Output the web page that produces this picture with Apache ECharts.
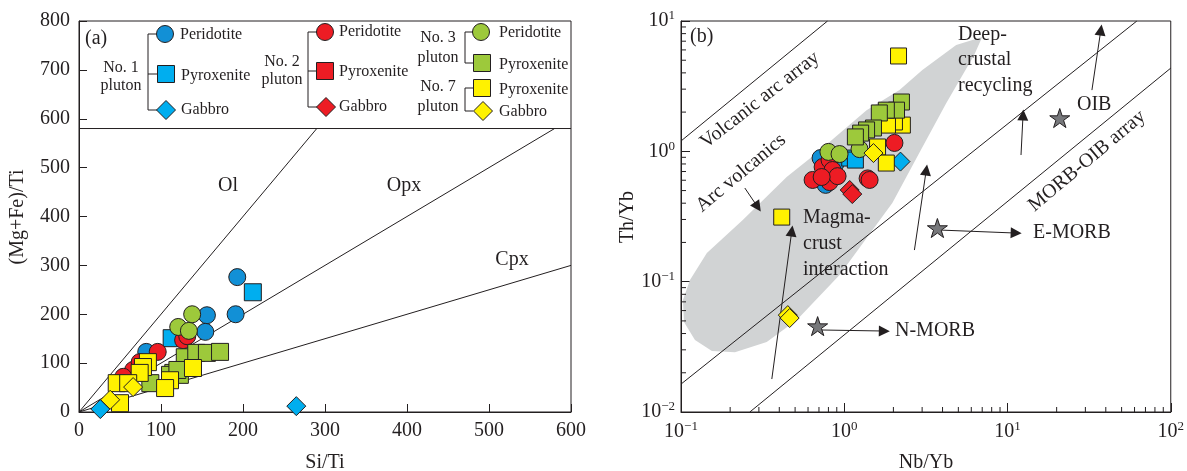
<!DOCTYPE html>
<html><head><meta charset="utf-8">
<script src="https://cdn.jsdelivr.net/npm/echarts@6.0.0/dist/echarts.min.js"></script>
<style>html,body{margin:0;padding:0;background:#fff}#c{width:1187px;height:471px}</style>
</head><body><div id="c"></div>
<script>
// ---------- Panel (a): Si/Ti vs (Mg+Fe)/Ti ----------
const a_no1_peridotite = [[193,276],[191,200],[156,198],[154,164],[82,123]];
const a_no1_pyroxenite = [[212,245],[113,151]];
const a_no1_gabbro = [[26,6],[265,12]];
const a_no2_peridotite = [[96,123],[127,147],[132,155],[66,86],[54,72],[74,102]];
const a_no3_peridotite = [[121,174],[138,200],[134,166]];
const a_no3_pyroxenite = [[129,112],[143,121],[156,121],[172,123],[115,80],[123,76],[87,59],[111,76],[120,86]];
const a_no7_pyroxenite = [[46,59],[50,18],[84,102],[78,92],[74,80],[111,65],[105,49],[139,90],[60,59]];
const a_no7_gabbro = [[38,25],[66,51]];
const a_line_ol = [[0,0],[290,580]];
const a_line_opx = [[0,0],[580,580]];
const a_line_cpx = [[0,0],[600,300]];
const a_legend_line = [[0,580],[600,580]];
const a_xticks = [0,100,200,300,400,500,600];

// ---------- Panel (b): Nb/Yb vs Th/Yb ----------
const b_no1_peridotite = [[0.716,0.888],[0.885,0.806],[0.769,0.553]];
const b_no1_pyroxenite = [[1.08,0.888],[1.17,0.857]];
const b_no1_gabbro = [[2.21,0.834]];
const b_no2_peridotite = [[0.64,0.603],[0.737,0.758],[0.813,0.857],[0.848,0.719],[0.813,0.581],[0.91,0.645],[0.727,0.635],[1.39,0.62],[1.43,0.603],[2.03,1.16]];
const b_no2_gabbro = [[1.08,0.505],[1.12,0.47]];
const b_no3_peridotite = [[0.80,0.99],[0.936,0.953],[1.24,1.04]];
const b_no3_pyroxenite = [[2.24,2.39],[2.09,2.07],[1.81,2.07],[1.64,1.97],[1.51,1.51],[1.37,1.46],[1.26,1.38],[1.17,1.29]];
const b_no7_pyroxenite = [[2.15,5.39],[0.414,0.313],[2.27,1.59],[2.03,1.68],[1.84,1.59],[1.60,1.08],[1.81,0.813]];
const b_no7_gabbro = [[1.51,0.97],[0.451,0.0554],[0.463,0.0526]];
const b_ref_names = ['N-MORB','E-MORB','OIB'];
const b_ref_values = [[0.687,0.0456],[3.72,0.258],[20.9,1.80]];
const b_line_arc = [[0.1,1.2],[0.79,10]];
const b_line_morb_upper = [[0.1,0.01637],[62,10]];
const b_line_morb_lower = [[0.264,0.01],[100,4.35]];
const b_gray_region = [[0.1028,0.0723],[0.1135,0.1028],[0.144,0.1657],[0.239,0.297],[0.444,0.635],[0.678,0.97],[1.37,2.07],[2.18,2.95],[3.01,4.21],[4.85,6.55],[7.0,7.54],[6.25,5.48],[4.22,2.35],[2.88,0.97],[1.97,0.401],[1.49,0.249],[0.936,0.1125],[0.512,0.0507],[0.335,0.0344],[0.214,0.0288],[0.1547,0.0294],[0.1218,0.0357],[0.1043,0.049]];
const b_arrows = [
  [[0.246,0.523],[0.295,0.374]],
  [[0.36,0.0179],[0.477,0.2445]],
  [[2.69,0.1748],[3.18,0.719]],
  [[12.1,0.937],[12.45,1.90]],
  [[32.9,2.95],[37.3,8.53]],
  [[3.82,0.249],[11.3,0.236]],
  [[0.706,0.0426],[1.76,0.0418]]
];
const b_decades_x = [0.1,1,10];
const b_decades_y = [0.01,0.1,1];

const C = {
  blueC:'#1290d6', blueS:'#00aeef', blueD:'#00aeef',
  red:'#ed1c24', green:'#9dc93b', yellow:'#fff200',
  star:'#77787b', gray:'#d1d3d4', ink:'#231f20'
};
const FONT = '"Liberation Serif","Times New Roman",serif';
const STAR = 'path://M10,0 L12.35,7.24 L19.95,7.24 L13.8,11.71 L16.15,18.94 L10,14.47 L3.85,18.94 L6.2,11.71 L0.05,7.24 L7.65,7.24 Z';
const ARROW = 'path://M5,0 L10,12 L0,12 Z';

function scatter(grid, data, symbol, color, size){
  return {type:'scatter', xAxisIndex:grid, yAxisIndex:grid, data, symbol,
    symbolSize:size, symbolKeepAspect:true,
    itemStyle:{color, borderColor:C.ink, borderWidth:1, opacity:1}, z:5, silent:true};
}
function refLine(grid, data){
  return {type:'line', xAxisIndex:grid, yAxisIndex:grid, data, showSymbol:false, symbol:'none',
    lineStyle:{color:C.ink, width:1}, z:3, silent:true};
}

// minor ticks for log axes
const minorData = [];
b_decades_x.forEach(d=>{for(let m=2;m<=9;m++) minorData.push([m*d,0.01,0]);});
b_decades_y.forEach(d=>{for(let m=2;m<=9;m++) minorData.push([0.1,m*d,1]);});

function supLabel(v){
  const e = Math.round(Math.log10(v));
  return '{b|10}{s|' + (e<0 ? '\u2212'+(-e) : e) + '}';
}
const supRich = {
  b:{fontSize:20, fontFamily:FONT, color:C.ink},
  s:{fontSize:13, fontFamily:FONT, color:C.ink, padding:[0,0,10,0]}
};

// legend graphics (panel a)
const G = [];
function txt(x,y,text,opt){
  opt = opt||{};
  G.push({type:'text', x, y, rotation:(opt.rot||0)*Math.PI/180, z:50,
    style:{text, x:0, y:0, fill:C.ink, font:(opt.size||20)+'px '+FONT,
      textAlign:opt.align||'left', textVerticalAlign:'middle', lineHeight:opt.lh||22}});
}
function poly(points){G.push({type:'polyline', z:40, shape:{points}, style:{stroke:C.ink, lineWidth:1, fill:null}});}
function lcircle(cx,cy,col){G.push({type:'circle', z:45, shape:{cx,cy,r:8.5}, style:{fill:col, stroke:C.ink, lineWidth:1}});}
function lrect(cx,cy,col){G.push({type:'rect', z:45, shape:{x:cx-8.5,y:cy-8.5,width:17,height:17}, style:{fill:col, stroke:C.ink, lineWidth:1}});}
function ldiam(cx,cy,col){const h=9.5;G.push({type:'polygon', z:45, shape:{points:[[cx,cy-h],[cx+h,cy],[cx,cy+h],[cx-h,cy]]}, style:{fill:col, stroke:C.ink, lineWidth:1}});}

// No.1
txt(121,77,'No. 1\npluton',{size:16,align:'center',lh:18});
poly([[157,34],[148,34],[148,110],[157,110]]); poly([[148,74],[158,74]]);
lcircle(165,34,C.blueC); lrect(166,74,C.blueS); ldiam(166,110,C.blueD);
txt(180,35,'Peridotite',{size:16}); txt(181,76,'Pyroxenite',{size:16}); txt(181,110,'Gabbro',{size:16});
// No.2
txt(282,71,'No. 2\npluton',{size:16,align:'center',lh:18});
poly([[317,32],[308,32],[308,107],[317,107]]); poly([[308,71],[317,71]]);
lcircle(325,32,C.red); lrect(325,71,C.red); ldiam(326,107,C.red);
txt(339,32,'Peridotite',{size:16}); txt(339,72,'Pyroxenite',{size:16}); txt(339,107,'Gabbro',{size:16});
// No.3
txt(438,48,'No. 3\npluton',{size:16,align:'center',lh:20});
poly([[473,32],[465,32],[465,63],[473,63]]);
lcircle(481,32,C.green); lrect(482,63,C.green);
txt(499,33,'Peridotite',{size:16}); txt(499,65,'Pyroxenite',{size:16});
// No.7
txt(438,97,'No. 7\npluton',{size:16,align:'center',lh:20});
poly([[473,88],[465,88],[465,111],[473,111]]);
lrect(482,88,C.yellow); ldiam(483,111,C.yellow);
txt(499,90,'Pyroxenite',{size:16}); txt(499,112,'Gabbro',{size:16});

// panel annotations
txt(85,39,'(a)'); txt(228,186,'Ol',{align:'center'}); txt(404,186,'Opx',{align:'center'}); txt(512,260,'Cpx',{align:'center'});
txt(325,463,'Si/Ti',{align:'center'});
txt(18,217,'(Mg+Fe)/Ti',{align:'center',rot:90});
txt(690,37,'(b)');
txt(760,100,'Volcanic arc array',{align:'center',rot:38});
txt(741,173,'Arc volcanics',{align:'center',rot:40});
txt(958,60,'Deep-\ncrustal\nrecycling',{lh:25.5});
txt(1077,105,'OIB');
txt(1087,161,'MORB-OIB array',{align:'center',rot:40});
txt(1033,233,'E-MORB');
txt(895,331,'N-MORB');
txt(803,244,'Magma-\ncrust\ninteraction',{lh:26});
txt(926,463,'Nb/Yb',{align:'center'});
txt(628,217,'Th/Yb',{align:'center',rot:90});

const axisCommon = {
  axisLine:{show:true, onZero:false, lineStyle:{color:C.ink, width:1}},
  splitLine:{show:false},
  axisTick:{show:true, inside:true, length:8, lineStyle:{color:C.ink, width:1}}
};

const option = {
  animation:false,
  backgroundColor:'#fff',
  grid:[
    {left:79, top:21, width:492, height:391, show:true, borderColor:C.ink, borderWidth:1, backgroundColor:'transparent'},
    {left:681, top:21, width:491, height:391, show:true, borderColor:C.ink, borderWidth:1, backgroundColor:'transparent'}
  ],
  xAxis:[
    Object.assign({gridIndex:0, type:'value', min:a_xticks[0], max:a_xticks[a_xticks.length-1], interval:100,
      axisLabel:{fontFamily:FONT, fontSize:20, color:C.ink, margin:9}}, axisCommon),
    Object.assign({gridIndex:1, type:'log', logBase:10, min:0.1, max:100,
      axisLabel:{formatter:supLabel, rich:supRich, margin:8}}, axisCommon, {axisTick:{show:true, inside:true, length:9, lineStyle:{color:C.ink}}})
  ],
  yAxis:[
    Object.assign({gridIndex:0, type:'value', min:0, max:800, interval:100,
      axisLabel:{fontFamily:FONT, fontSize:20, color:C.ink, margin:9}}, axisCommon),
    Object.assign({gridIndex:1, type:'log', logBase:10, min:0.01, max:10,
      axisLabel:{formatter:supLabel, rich:supRich, margin:6}}, axisCommon, {axisTick:{show:true, inside:true, length:9, lineStyle:{color:C.ink}}})
  ],
  graphic:{elements:G},
  series:[
    // panel a
    refLine(0,a_line_ol), refLine(0,a_line_opx), refLine(0,a_line_cpx), refLine(0,a_legend_line),
    scatter(0,a_no1_peridotite,'circle',C.blueC,17),
    scatter(0,a_no1_pyroxenite,'rect',C.blueS,17),
    scatter(0,a_no1_gabbro,'diamond',C.blueD,19),
    scatter(0,a_no2_peridotite,'circle',C.red,17),
    scatter(0,a_no3_peridotite,'circle',C.green,17),
    scatter(0,a_no3_pyroxenite,'rect',C.green,17),
    scatter(0,a_no7_pyroxenite,'rect',C.yellow,17),
    scatter(0,a_no7_gabbro,'diamond',C.yellow,19),
    // panel b
    {type:'custom', xAxisIndex:1, yAxisIndex:1, data:[[1,1]], z:1, silent:true, clip:true,
      renderItem:(p,api)=>({type:'polygon', shape:{points:b_gray_region.map(q=>api.coord(q))}, style:{fill:C.gray}})},
    {type:'custom', xAxisIndex:1, yAxisIndex:1, data:minorData, z:2, silent:true, clip:false,
      renderItem:(p,api)=>{const c=api.coord([api.value(0),api.value(1)]);const k=api.value(2);
        return {type:'line', shape:k===0?{x1:c[0],y1:c[1],x2:c[0],y2:c[1]-5}:{x1:c[0],y1:c[1],x2:c[0]+5,y2:c[1]}, style:{stroke:C.ink,lineWidth:1}};}},
    refLine(1,b_line_arc), refLine(1,b_line_morb_upper), refLine(1,b_line_morb_lower),
    {type:'lines', coordinateSystem:'cartesian2d', xAxisIndex:1, yAxisIndex:1, z:4, silent:true,
      symbol:['none',ARROW], symbolSize:[7,11], lineStyle:{color:C.ink, width:1, opacity:1},
      itemStyle:{color:C.ink},
      data:b_arrows.map(c=>({coords:c}))},
    scatter(1,b_no1_peridotite,'circle',C.blueC,17),
    scatter(1,b_no1_pyroxenite,'rect',C.blueS,16),
    scatter(1,b_no1_gabbro,'diamond',C.blueD,19),
    scatter(1,b_no2_peridotite,'circle',C.red,17),
    scatter(1,b_no2_gabbro,'diamond',C.red,19),
    scatter(1,b_no7_pyroxenite,'rect',C.yellow,16),
    scatter(1,b_no3_peridotite,'circle',C.green,17),
    scatter(1,b_no3_pyroxenite,'rect',C.green,16),
    scatter(1,b_no7_gabbro,'diamond',C.yellow,19),
    scatter(1,b_ref_values.map((v,i)=>({name:b_ref_names[i], value:v})),STAR,C.star,20)
  ]
};
const chart = echarts.init(document.getElementById('c'), null, {renderer:'canvas'});
chart.setOption(option);
</script></body></html>
